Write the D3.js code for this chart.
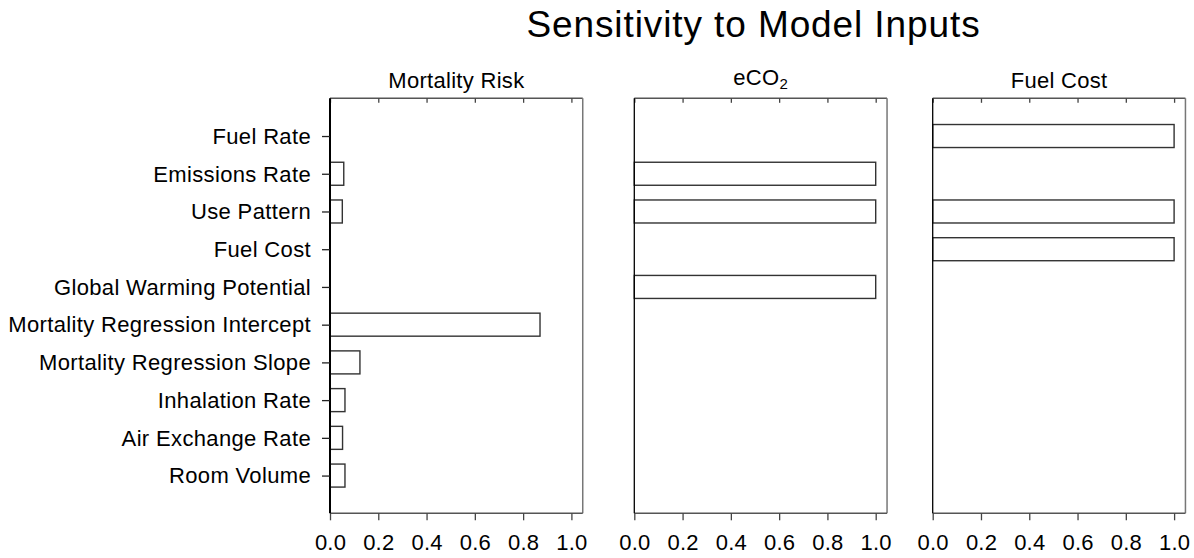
<!DOCTYPE html>
<html>
<head>
<meta charset="utf-8">
<script src="https://cdn.jsdelivr.net/npm/d3@7/dist/d3.min.js"></script>
<style>
  html, body { margin: 0; padding: 0; background: #fff; }
  svg text { font-family: "Liberation Sans", Arial, sans-serif; fill: #000; }
</style>
</head>
<body>
<svg id="chart" width="1194" height="558"></svg>
<script>
// Model inputs, listed top to bottom
const inputs = [
  "Fuel Rate", "Emissions Rate", "Use Pattern", "Fuel Cost",
  "Global Warming Potential", "Mortality Regression Intercept",
  "Mortality Regression Slope", "Inhalation Rate", "Air Exchange Rate", "Room Volume"
];

// Normalised sensitivity of each output to each input
const mortalityRisk = [0, 0.057, 0.051, 0, 0, 0.870, 0.124, 0.062, 0.052, 0.062];
const eco2          = [0, 1, 1, 0, 1, 0, 0, 0, 0, 0];
const fuelCost      = [1, 0, 1, 1, 0, 0, 0, 0, 0, 0];

const xTicks = [0.0, 0.2, 0.4, 0.6, 0.8, 1.0];

const panels = [
  { title: "Mortality Risk", values: mortalityRisk, left: 330,   showLabels: true },
  { title: "eCO2",           values: eco2,          left: 634.3, showLabels: false },
  { title: "Fuel Cost",      values: fuelCost,      left: 932.7, showLabels: false }
];

const svg = d3.select("#chart");
const plotTop = 98.3, plotBottom = 513.3;
const unit = 241.4;          // pixels per 1.0 on the x axis
const xMax = 1.047;          // axis extends slightly past 1.0

const y = d3.scalePoint().domain(inputs).range([plotTop, plotBottom]).padding(1);
const barH = y.step() * 0.61;

svg.append("text")
  .attr("x", 753.5).attr("y", 37)
  .attr("text-anchor", "middle")
  .style("font-size", "37px")
  .style("letter-spacing", "0.9px")
  .text("Sensitivity to Model Inputs");

panels.forEach(p => {
  const x = d3.scaleLinear().domain([0, 1]).range([p.left, p.left + unit]);
  const right = x(xMax);
  const g = svg.append("g");

  // panel title
  const t = g.append("text")
    .attr("x", (p.left + right) / 2)
    .attr("text-anchor", "middle")
    .style("font-size", "22px")
    .style("letter-spacing", "0.3px");
  if (p.title === "eCO2") {
    t.attr("y", 85);
    t.append("tspan").text("eCO");
    t.append("tspan").attr("dy", 4).style("font-size", "15px").text("2");
  } else {
    t.attr("y", 88.3).text(p.title);
  }

  // bars
  const rows = inputs.map((k, i) => ({ k, v: p.values[i] })).filter(d => d.v > 0);
  g.selectAll("rect.bar").data(rows).join("rect")
    .attr("class", "bar")
    .attr("x", x(0))
    .attr("y", d => y(d.k) - barH / 2)
    .attr("width", d => x(d.v) - x(0))
    .attr("height", barH)
    .attr("fill", "#fff")
    .attr("stroke", "#333")
    .attr("stroke-width", 1.4);

  // top and right frame lines
  g.append("line").attr("x1", x(0)).attr("x2", right).attr("y1", plotTop).attr("y2", plotTop)
    .attr("stroke", "#555").attr("stroke-width", 1.4);
  g.append("line").attr("x1", right).attr("x2", right).attr("y1", plotTop).attr("y2", plotBottom)
    .attr("stroke", "#777").attr("stroke-width", 1.5);

  // inward ticks along the top edge
  const topAxis = d3.axisTop(x).tickValues(xTicks).tickSize(-4.5).tickFormat("");
  const ta = g.append("g").attr("transform", `translate(0,${plotTop})`).call(topAxis);
  ta.select(".domain").remove();
  ta.selectAll(".tick line").attr("stroke", "#444").attr("stroke-width", 1.3);

  // bottom axis
  const bottomAxis = d3.axisBottom(x).tickValues(xTicks).tickSize(7).tickSizeOuter(0)
    .tickPadding(14.5).tickFormat(d3.format(".1f"));
  const ba = g.append("g").attr("transform", `translate(0,${plotBottom})`).call(bottomAxis);
  ba.select(".domain").attr("d", `M${x(0)},0H${right}`).attr("stroke", "#555").attr("stroke-width", 1.4);
  ba.selectAll(".tick line").attr("stroke", "#444").attr("stroke-width", 1.3);
  ba.selectAll(".tick text")
    .attr("fill", "#000")
    .style("font-size", "22px")
    .style("letter-spacing", "0.2px")
    .style("font-family", "'Liberation Sans', Arial, sans-serif");

  // left axis
  if (p.showLabels) {
    const leftAxis = d3.axisLeft(y).tickSize(8).tickSizeOuter(0).tickPadding(11);
    const la = g.append("g").attr("transform", `translate(${x(0)},0)`).call(leftAxis);
    la.select(".domain").attr("d", `M0,${plotTop}V${plotBottom}`).attr("stroke", "#000").attr("stroke-width", 2);
    la.selectAll(".tick line").attr("stroke", "#222").attr("stroke-width", 1.3);
    la.selectAll(".tick text")
      .attr("fill", "#000")
      .attr("dy", "0.33em")
      .style("font-size", "22px")
      .style("letter-spacing", "0.35px")
      .style("font-family", "'Liberation Sans', Arial, sans-serif");
  } else {
    g.append("line").attr("x1", x(0)).attr("x2", x(0)).attr("y1", plotTop).attr("y2", plotBottom)
      .attr("stroke", "#000").attr("stroke-width", 1.3);
  }
});
</script>
</body>
</html>
